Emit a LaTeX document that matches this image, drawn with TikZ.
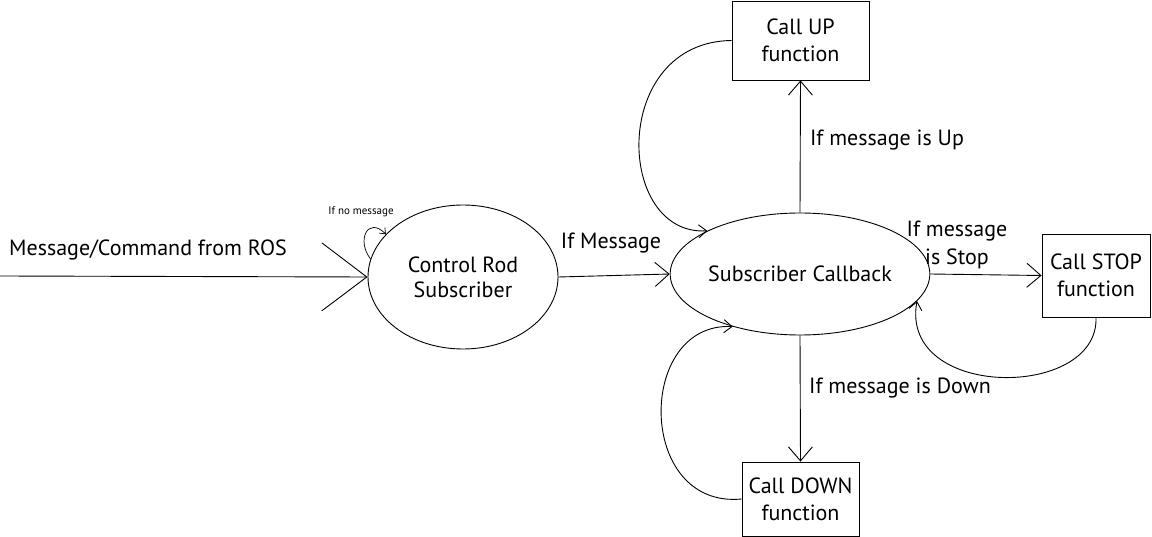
\documentclass[tikz,border=0pt]{standalone}
\usepackage{fontspec}
\setmainfont{PT Sans}
\usetikzlibrary{shapes.geometric,arrows.meta}
\begin{document}
\begin{tikzpicture}[x=1pt,y=-1pt,
  line width=0.9pt,
  every node/.style={font=\fontsize{22}{27}\selectfont, align=center, inner sep=0pt},
  oval/.style={draw, ellipse},
  fbox/.style={draw, rectangle},
  big/.style={-{Straight Barb[length=45pt,width=68pt,line width=0.9pt]}},
  arr/.style={-{Straight Barb[length=14pt,width=24pt,line width=0.9pt]}},
  loop/.style={-{Straight Barb[length=8pt,width=13pt,line width=0.9pt]}},
  tiny/.style={-{Straight Barb[length=5pt,width=8pt,line width=0.7pt]}, line width=0.7pt}
]
\useasboundingbox (0,0) rectangle (1152,537);
\node[oval, minimum width=190pt, minimum height=144pt, font=\fontsize{22}{25}\selectfont] (crs) at (463,277) {Control Rod\\Subscriber};
\node[oval, minimum width=221pt, minimum height=122pt] (cb) at (800,274) {Subscriber Callback};
\node[fbox, minimum width=137pt, minimum height=79pt] (up) at (800.5,40.5) {Call UP\\function};
\node[fbox, minimum width=108pt, minimum height=83pt] (stop) at (1096,275.5) {Call STOP\\function};
\node[fbox, minimum width=117pt, minimum height=74pt] (down) at (800.5,499) {Call DOWN\\function};
\coordinate (in) at (0,276);
\node (tin) at (148,250) {Message/Command from ROS};
\node[font=\fontsize{11}{12}\selectfont] (tno) at (361,212) {If no message};
\node (tmsg) at (611,243) {If Message};
\node (tup) at (887,140) {If message is Up};
\node[font=\fontsize{22}{28}\selectfont] (tstop) at (957,245) {If message\\is Stop};
\node (tdown) at (900,388) {If message is Down};
\draw[big] (in) -- (crs.west);
\draw[tiny] (crs.169) .. controls (356,240) and (368,216) .. (crs.151);
\draw[arr] (crs.east) -- (cb.west);
\draw[arr] (cb.north) -- (up.south);
\draw[arr] (cb.south) -- (down.north);
\draw[arr] (cb.east) -- (stop.west);
\draw[loop] (up.west) .. controls (610,42) and (615,236) .. (cb.155);
\draw[loop] (stop.south) .. controls (1099,400) and (899,400) .. (cb.-13);
\draw[loop] (down.west) .. controls (636,509) and (636,322) .. (cb.218);
\end{tikzpicture}
\end{document}
